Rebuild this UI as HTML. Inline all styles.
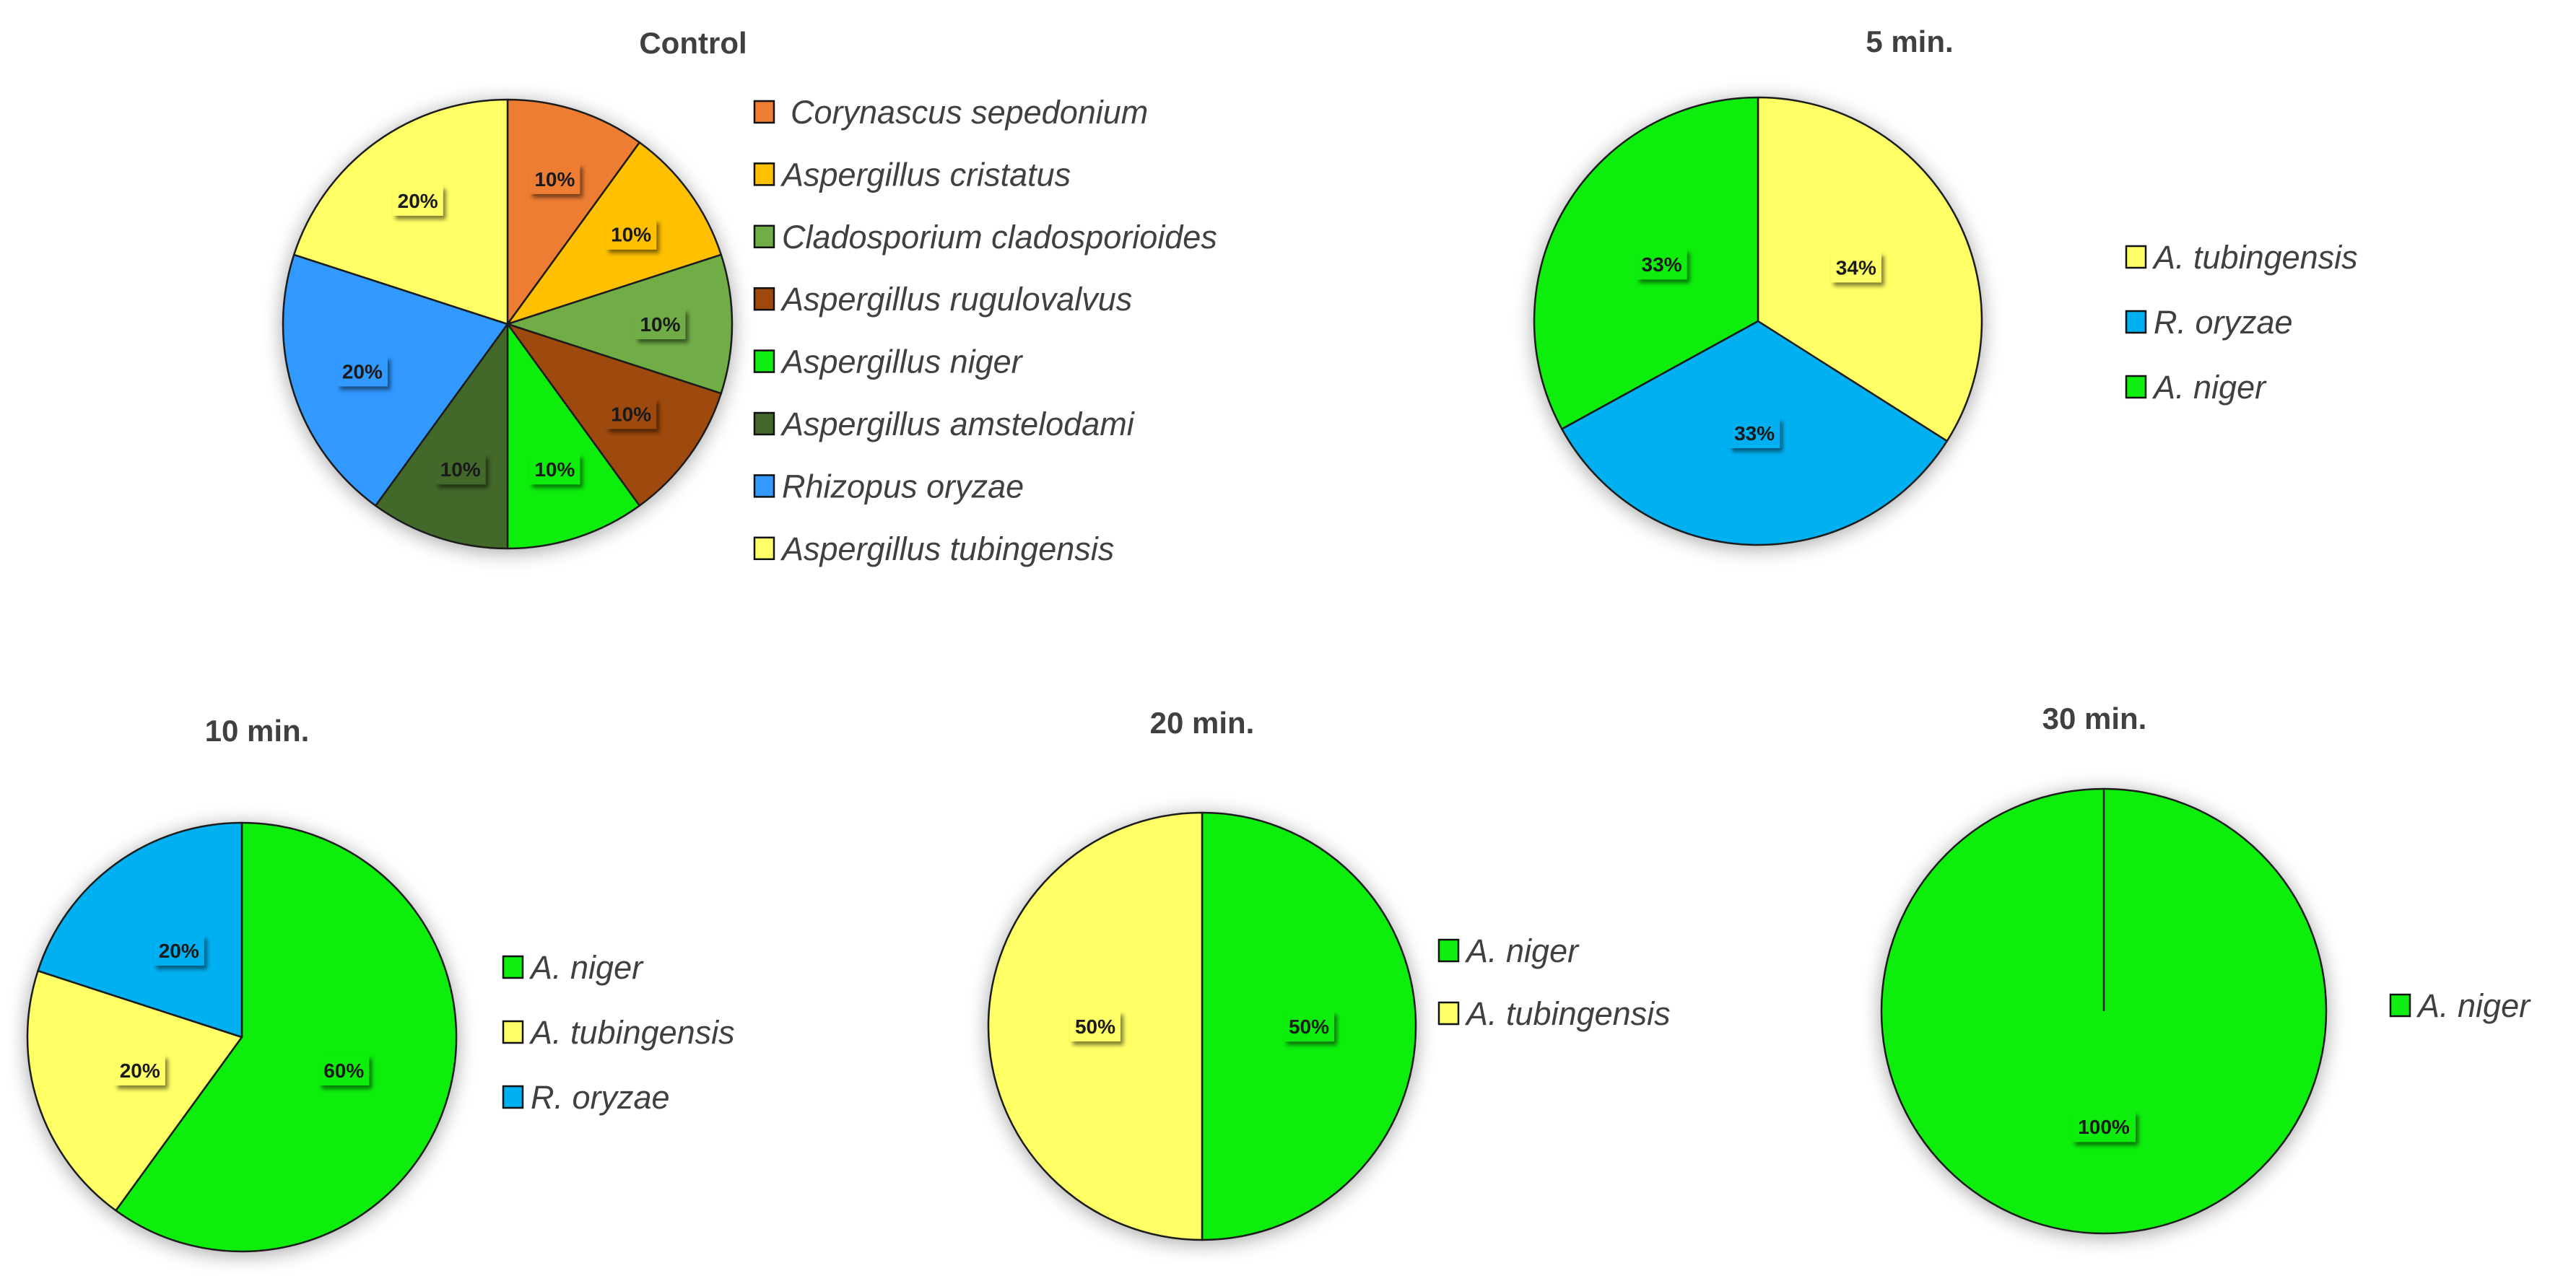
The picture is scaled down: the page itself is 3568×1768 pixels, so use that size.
<!DOCTYPE html>
<html><head><meta charset="utf-8">
<style>
html,body{margin:0;padding:0;background:#fff;}
svg{display:block;}
text{font-family:"Liberation Sans",sans-serif;}
</style></head>
<body>
<svg id="chart" width="3568" height="1768" viewBox="0 0 3568 1768" xmlns="http://www.w3.org/2000/svg">
<defs>
<filter id="glow" x="-20%" y="-20%" width="140%" height="140%"><feGaussianBlur in="SourceAlpha" stdDeviation="14"/><feOffset dx="0" dy="4"/><feComponentTransfer><feFuncA type="linear" slope="0.35"/></feComponentTransfer><feMerge><feMergeNode/><feMergeNode in="SourceGraphic"/></feMerge></filter>
<filter id="lblsh" x="-30%" y="-30%" width="170%" height="180%"><feGaussianBlur in="SourceAlpha" stdDeviation="3"/><feOffset dx="4" dy="5"/><feComponentTransfer><feFuncA type="linear" slope="0.5"/></feComponentTransfer><feMerge><feMergeNode/><feMergeNode in="SourceGraphic"/></feMerge></filter>
</defs>
</svg>
<script>
// Control
const controlNames = ["Corynascus sepedonium","Aspergillus cristatus","Cladosporium cladosporioides","Aspergillus rugulovalvus","Aspergillus niger","Aspergillus amstelodami","Rhizopus oryzae","Aspergillus tubingensis"];
const controlValues = [10,10,10,10,10,10,20,20];
const controlColors = ["#ED7D31","#FFC000","#70AD47","#9E480E","#11EE11","#43682B","#3399FF","#FFFF66"];
// 5 min
const min5Names = ["A. tubingensis","R. oryzae","A. niger"];
const min5Values = [34,33,33];
const min5Colors = ["#FFFF66","#00B0F0","#11EE11"];
// 10 min
const min10Names = ["A. niger","A. tubingensis","R. oryzae"];
const min10Values = [60,20,20];
const min10Colors = ["#11EE11","#FFFF66","#00B0F0"];
// 20 min
const min20Names = ["A. niger","A. tubingensis"];
const min20Values = [50,50];
const min20Colors = ["#11EE11","#FFFF66"];
// 30 min
const min30Names = ["A. niger"];
const min30Values = [100];
const min30Colors = ["#11EE11"];

const NS = "http://www.w3.org/2000/svg";
const svg = document.getElementById("chart");
function mk(tag, attrs, parent){const e=document.createElementNS(NS,tag);for(const k in attrs)e.setAttribute(k,attrs[k]);(parent||svg).appendChild(e);return e;}

function drawPie(cfg){
  const g = mk("g",{});
  
  
  const t = mk("text",{x:cfg.tx,y:cfg.ty,"text-anchor":"middle","font-size":42,"font-weight":"bold",fill:"#404040"},g);
  t.textContent = cfg.title;
  
  
  const total = cfg.values.reduce((a,b)=>a+b,0);
  const pg = mk("g",{filter:"url(#glow)"},g);
  let a0 = 0;
  const labels = [];
  cfg.values.forEach((v,i)=>{
    const a1 = a0 + v/total*2*Math.PI;
    const x0 = cfg.cx + cfg.r*Math.sin(a0), y0 = cfg.cy - cfg.r*Math.cos(a0);
    const x1 = cfg.cx + cfg.r*Math.sin(a1), y1 = cfg.cy - cfg.r*Math.cos(a1);
    let el;
    if (v/total >= 0.9999){
      el = mk("circle",{cx:cfg.cx,cy:cfg.cy,r:cfg.r,fill:cfg.colors[i],stroke:"#1a1a1a","stroke-width":2.5},pg);
      mk("line",{x1:cfg.cx,y1:cfg.cy-cfg.r,x2:cfg.cx,y2:cfg.cy,stroke:"#1a1a1a","stroke-width":2.5},pg);
    } else {
      const large = (a1-a0) > Math.PI ? 1 : 0;
      el = mk("path",{d:`M${cfg.cx},${cfg.cy} L${x0},${y0} A${cfg.r},${cfg.r} 0 ${large} 1 ${x1},${y1} Z`,fill:cfg.colors[i],stroke:"#1a1a1a","stroke-width":2.5,"stroke-linejoin":"round"},pg);
    }
    
    
    const am = (a0+a1)/2;
    labels.push({x:cfg.cx + cfg.lr*cfg.r*Math.sin(am), y:cfg.cy - cfg.lr*cfg.r*Math.cos(am), v:v, c:cfg.colors[i]});
    a0 = a1;
  });
  labels.forEach((L,i)=>{
    const txt = L.v + "%";
    const w = txt.length*18 + 16, h = 42;
    const lg = mk("g",{},g);
    
    
    mk("rect",{x:L.x-w/2,y:L.y-h/2,width:w,height:h,fill:L.c,filter:"url(#lblsh)"},lg);
    const tt = mk("text",{x:L.x,y:L.y+10,"text-anchor":"middle","font-size":28,"font-weight":"bold",fill:"#1a1a1a"},lg);
    tt.textContent = txt;
  });
  cfg.names.forEach((n,i)=>{
    const y = cfg.ly + i*cfg.lgap;
    const eg = mk("g",{},g);
    
    
    mk("rect",{x:cfg.lx,y:y-15,width:27,height:30,fill:cfg.colors[i],stroke:"#111","stroke-width":2.5},eg);
    const lt = mk("text",{x:cfg.lx+(i===0&&cfg.firstOffset?50:38),y:y+16,"font-size":45,"font-style":"italic",fill:"#404040"},eg);
    lt.textContent = n;
  });
}

drawPie({id:"control",title:"Control",tx:960,ty:74,cx:703,cy:449,r:311,lr:0.68,names:controlNames,values:controlValues,colors:controlColors,lx:1045,ly:155,lgap:86.4,firstOffset:true});
drawPie({id:"min5",title:"5 min.",tx:2645,ty:72,cx:2435,cy:445,r:310,lr:0.5,names:min5Names,values:min5Values,colors:min5Colors,lx:2945,ly:356,lgap:90});
drawPie({id:"min10",title:"10 min.",tx:356,ty:1027,cx:335,cy:1437,r:297,lr:0.5,names:min10Names,values:min10Values,colors:min10Colors,lx:697,ly:1340,lgap:90});
drawPie({id:"min20",title:"20 min.",tx:1665,ty:1016,cx:1665,cy:1422,r:296,lr:0.5,names:min20Names,values:min20Values,colors:min20Colors,lx:1993,ly:1317,lgap:87});
drawPie({id:"min30",title:"30 min.",tx:2901,ty:1010,cx:2914,cy:1401,r:308,lr:0.52,names:min30Names,values:min30Values,colors:min30Colors,lx:3311,ly:1393,lgap:90});
</script>
</body></html>
